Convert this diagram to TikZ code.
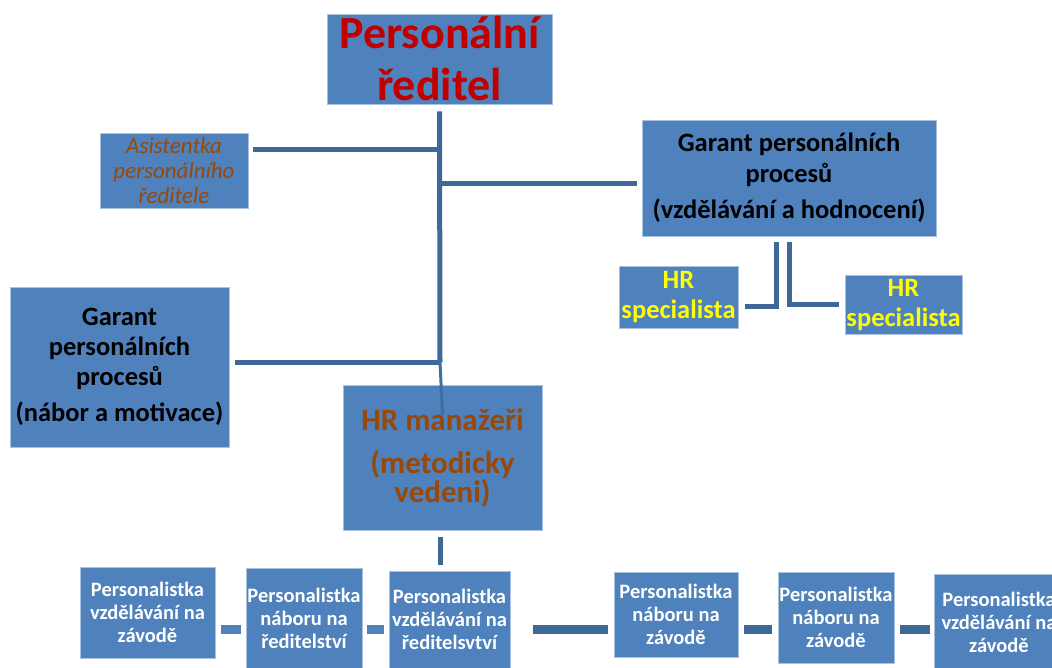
\documentclass[tikz,border=0pt]{standalone}
\usepackage{fontspec}
\setmainfont{Carlito}
\definecolor{boxblue}{HTML}{4F81BD}
\definecolor{boxline}{HTML}{A9C2E0}
\definecolor{linkblue}{HTML}{3E6898}
\definecolor{titlered}{HTML}{C00000}
\definecolor{brown}{HTML}{984807}
\definecolor{hryellow}{HTML}{FFFF00}
\newcommand{\boxfont}[2]{\fontsize{#1}{#2}\selectfont}
\begin{document}
\begin{tikzpicture}[x=1pt, y=-1pt,
        box/.style={draw=boxline, fill=boxblue, line width=0.8pt, inner sep=0pt, align=center, font=\bfseries},
        staff/.style={box, text=white, font=\bfseries\boxfont{20.5}{23}},
        link/.style={draw=linkblue, line width=5pt},
        thinlink/.style={draw=linkblue!80!boxblue, line width=3pt},
        rowlink/.style={draw=boxblue, line width=9pt},
        rowlinkdark/.style={draw=linkblue, line width=9pt}
    ]
    \clip (0,0) rectangle (1052,668);

    % top of the chart
    \node[box, minimum width=225, minimum height=90, text=titlered, font=\bfseries\boxfont{46}{52}] (dir) at (439.5,59) {Personální\\ředitel};
    \node[box, minimum width=148, minimum height=75, text=brown, font=\itshape\boxfont{23}{25}] (asist) at (174,170.5) {Asistentka\\personálního\\ředitele};
    \node[box, minimum width=294, minimum height=116, font=\bfseries\boxfont{26.5}{31}] (garT) at (789,178) {Garant personálních\\procesů\\[5pt](vzdělávání a hodnocení)};
    \node[box, minimum width=119, minimum height=62, text=hryellow, font=\bfseries\boxfont{26.5}{30}] (spec1) at (678.5,297) {HR\\specialista};
    \node[box, minimum width=117, minimum height=59, text=hryellow, font=\bfseries\boxfont{26.5}{30}] (spec2) at (903.5,304.5) {HR\\specialista};
    \node[box, minimum width=219, minimum height=160, font=\bfseries\boxfont{26.5}{30}] (garL) at (119.5,367) {Garant\\personálních\\procesů\\[6pt](nábor a motivace)};
    \node[box, minimum width=199, minimum height=145, text=brown, font=\bfseries\boxfont{31}{29}] (hrman) at (442.5,457.5) {HR manažeři\\[14pt](metodicky\\vedeni)};

    % personalistky
    \node[staff, minimum width=135, minimum height=91] (p1) at (147.5,612.5) {Personalistka\\vzdělávání na\\závodě};
    \node[staff, minimum width=116, minimum height=100] (p2) at (304,618.5) {Personalistka\\náboru na\\ředitelství};
    \node[staff, minimum width=121, minimum height=97] (p3) at (449.5,619.5) {Personalistka\\vzdělávání na\\ředitelsvtví};
    \node[staff, minimum width=124, minimum height=85] (p4) at (676,614.5) {Personalistka\\náboru na\\závodě};
    \node[staff, minimum width=116, minimum height=91] (p5) at (836,617.5) {Personalistka\\náboru na\\závodě};
    \node[staff, minimum width=130, minimum height=96] (p6) at (999,622) {Personalistka\\vzdělávání na\\závodě};

    \coordinate (jA) at (440,150);
    \coordinate (jG) at (440,184);
    \coordinate (jL) at (440,362);
    \coordinate (row) at (0,629);

    % connectors
    \draw[link, shorten <=7pt] (dir.south) -- (jL);
    \draw[link, shorten <=5pt] (asist.east |- jA) -- (jA);
    \draw[link, shorten >=5pt] (jG) -- (garT.west |- jG);
    \draw[link, shorten <=6pt] (garL.east |- jL) -- (jL);
    \draw[thinlink] (jL) -- ([yshift=-30pt]hrman.north);
    \draw[link, shorten <=7pt, shorten >=6pt] ([xshift=-2pt]hrman.south) -- ([xshift=-2pt]hrman.south |- p3.north);
    \draw[link, shorten <=6pt, shorten >=7pt] ([xshift=-13pt]garT.south) |- ([yshift=-10pt]spec1.east);
    \draw[link, shorten <=6pt, shorten >=6pt] (garT.south) |- (spec2.west);
    \draw[rowlink, shorten <=6pt, shorten >=5pt] (p1.east |- row) -- (p2.west |- row);
    \draw[rowlink, shorten <=5pt, shorten >=5pt] (p2.east |- row) -- (p3.west |- row);
    \draw[rowlinkdark, shorten <=23pt, shorten >=6pt] (p3.east |- row) -- (p4.west |- row);
    \draw[rowlinkdark, shorten <=6pt, shorten >=6pt] (p4.east |- row) -- (p5.west |- row);
    \draw[rowlinkdark, shorten <=6pt, shorten >=4pt] (p5.east |- row) -- (p6.west |- row);
\end{tikzpicture}
\end{document}
